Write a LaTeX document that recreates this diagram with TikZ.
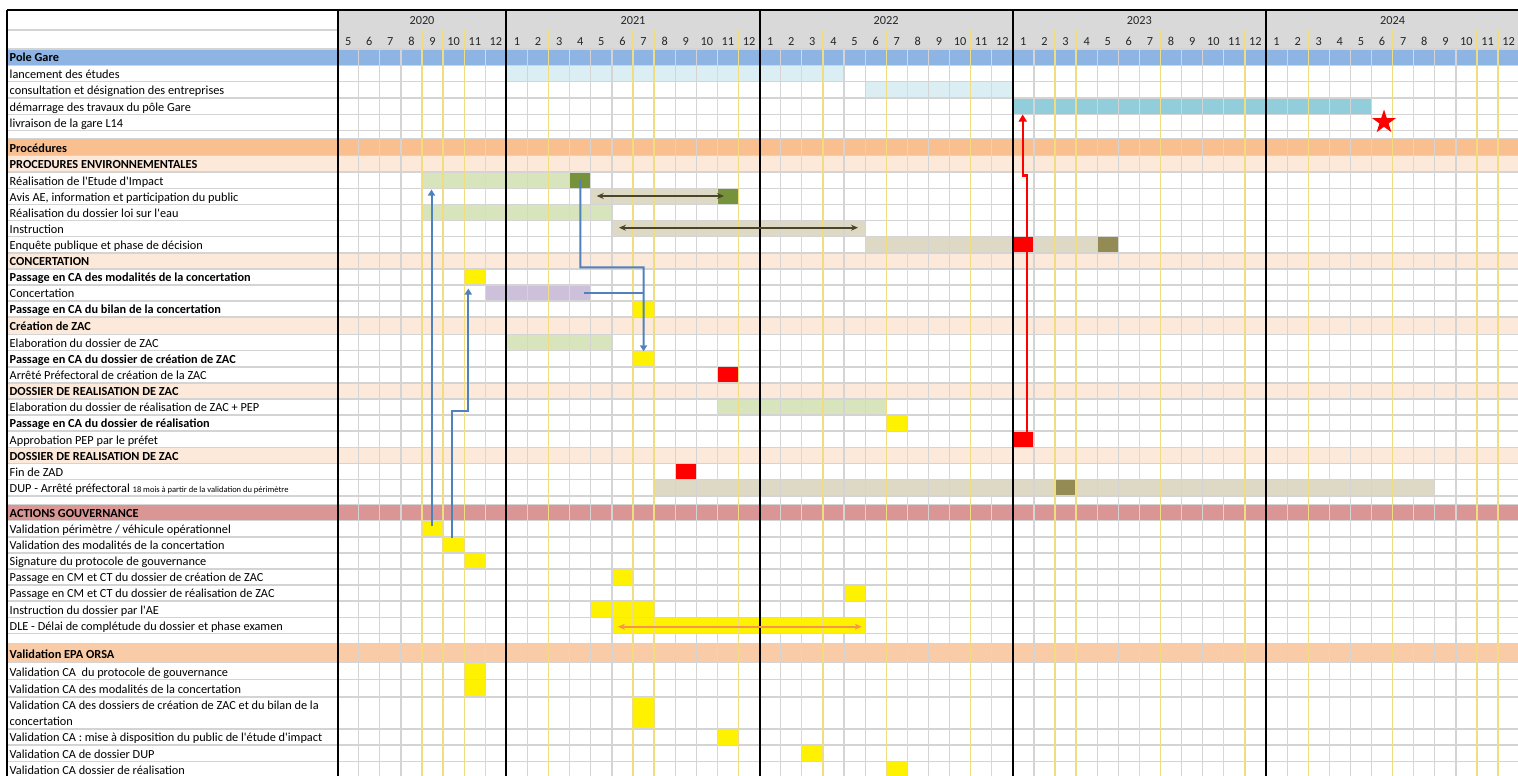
\documentclass[tikz,border=0pt]{standalone}
\usepackage{fontspec}
\setmainfont{Carlito}
\usetikzlibrary{arrows.meta,shapes.geometric}
\definecolor{poleblue}{HTML}{8DB4E2}
\definecolor{ltblue}{HTML}{DAEEF3}
\definecolor{midblue}{HTML}{92CDDC}
\definecolor{procor}{HTML}{FABF8F}
\definecolor{peach}{HTML}{FDE9D9}
\definecolor{ltgreen}{HTML}{D8E4BC}
\definecolor{dkgreen}{HTML}{76933C}
\definecolor{beige}{HTML}{DDD9C4}
\definecolor{olive}{HTML}{948A54}
\definecolor{lav}{HTML}{CCC0DA}
\definecolor{gouv}{HTML}{DA9694}
\definecolor{epa}{HTML}{F9CBA7}
\definecolor{hdrgray}{HTML}{D9D9D9}
\definecolor{gridgray}{HTML}{D4D4D4}
\definecolor{ycolor}{HTML}{F0DD82}
\definecolor{connblue}{HTML}{4F81BD}
\definecolor{darkol}{HTML}{4A4528}
\definecolor{orarrow}{HTML}{F79646}
\definecolor{hdrtext}{HTML}{262626}
\newcommand\ap{\textquotesingle}
\newcommand\gbar[5]{\fill[#1] ({337.6+21.1*(#2)},#4) rectangle ({337.6+21.1*(#3)},#5);}
\newcommand\gcell[6]{\node[cellbox, fill=#2, minimum width={21.1*((#4)-(#3))-1.2}, minimum height={(#6)-(#5)-1.2}] (#1) at ({337.6+21.1*((#3)+(#4))/2},{((#5)+(#6))/2}) {};}
\newcommand\lab[4]{\node[#1] (#2) at (9.5,#3) {#4};}
\tikzset{
  lbl/.style={anchor=base west, inner sep=0pt, font=\fontsize{12.3}{14}\selectfont},
  blbl/.style={anchor=base west, inner sep=0pt, font=\fontsize{12.3}{14}\selectfont\bfseries},
  hdr/.style={anchor=base, inner sep=0pt, font=\fontsize{12.3}{14}\selectfont, text=hdrtext},
  hgrid/.style={draw=gridgray, line width=1.5pt},
  vgrid/.style={draw=gridgray, line width=1.2pt},
  ycol/.style={draw=ycolor, line width=1.3pt},
  yearline/.style={draw=black, line width=2pt},
  cellbox/.style={rectangle, draw=none, inner sep=0pt, outer sep=0pt},
  conn/.style={draw=connblue, line width=2pt},
  redconn/.style={draw=red, line width=2.4pt},
  oconn/.style={draw=darkol, line width=2pt},
  orconn/.style={draw=orarrow, line width=2pt},
}
\begin{document}
\begin{tikzpicture}[x=1pt,y=-1pt]
\useasboundingbox (0,0) rectangle (1518,776);
\begin{scope}
\clip (0,0) rectangle (1518,776);
% ---- row bands
\fill[poleblue] (7,49) rectangle (1520,65.3);
\fill[procor] (7,138.5) rectangle (1520,155.5);
\fill[peach] (7,155.5) rectangle (1520,172);
\fill[peach] (7,252.8) rectangle (1520,268.9);
\fill[peach] (7,317.2) rectangle (1520,334.5);
\fill[peach] (7,382.9) rectangle (1520,399);
\fill[peach] (7,447.3) rectangle (1520,463.4);
\fill[gouv] (7,504.5) rectangle (1520,520.7);
\fill[epa] (7,643.3) rectangle (1520,662.5);
\fill[hdrgray] (337.6,10) rectangle (1520,49);
% ---- light bars
\gbar{ltblue}{8}{24}{65.3}{81.6}
\gbar{ltblue}{25}{32}{81.6}{98}
\gbar{midblue}{32}{49}{98}{114.3}
\gbar{ltgreen}{4}{11}{172}{188.3}
\gbar{beige}{12}{18}{188.3}{204.4}
\gbar{ltgreen}{4}{13}{204.4}{220.6}
\gbar{beige}{13}{25}{220.6}{236.7}
\gbar{beige}{25}{36}{236.7}{252.8}
\gbar{lav}{7}{12}{285}{301.1}
\gbar{ltgreen}{8}{13}{334.5}{350.7}
\gbar{ltgreen}{18}{26}{399}{415.1}
\gbar{beige}{15}{52}{479.6}{495.8}
% ---- grid
\draw[hgrid] (7,30) -- (337.6,30);
\foreach \yy in {49,65.3,81.6,98,114.3,130.6,138.5,155.5,172,188.3,204.4,220.6,236.7,252.8,268.9,285,301.1,317.2,334.5,350.7,366.8,382.9,399,415.1,431.2,447.3,463.4,479.6,495.8,504.5,520.7,536.8,552.9,569,585.1,601.2,617.3,633.4,643.3,662.5,679.6,696.8,729,745.2,761.4,777.6}
  \draw[hgrid] (7,\yy) -- (1520,\yy);
\foreach \m in {1,...,55}
  \draw[vgrid] ({337.6+21.1*\m},49) -- ({337.6+21.1*\m},780);
% ---- solid cells
\gcell{eiG}{dkgreen}{11}{12}{172}{188.3}
\gcell{avG}{dkgreen}{18}{19}{188.3}{204.4}
\gcell{enqR}{red}{32}{33}{236.7}{252.8}
\gcell{enqO}{olive}{36}{37}{236.7}{252.8}
\gcell{pmodY}{yellow}{6}{7}{268.9}{285}
\gcell{pbilY}{yellow}{14}{15}{301.1}{317.2}
\gcell{pcreY}{yellow}{14}{15}{350.7}{366.8}
\gcell{arrR}{red}{18}{19}{366.8}{382.9}
\gcell{prealY}{yellow}{26}{27}{415.1}{431.2}
\gcell{apprR}{red}{32}{33}{431.2}{447.3}
\gcell{zadR}{red}{16}{17}{463.4}{479.6}
\gcell{dupO}{olive}{34}{35}{479.6}{495.8}
\gcell{vperY}{yellow}{4}{5}{520.7}{536.8}
\gcell{vmodY}{yellow}{5}{6}{536.8}{552.9}
\gcell{sigY}{yellow}{6}{7}{552.9}{569}
\gcell{cmcY}{yellow}{13}{14}{569}{585.1}
\gcell{cmrY}{yellow}{24}{25}{585.1}{601.2}
\gcell{iaeAY}{yellow}{12}{13}{601.2}{617.3}
\gcell{iaeBY}{yellow}{13}{15}{601.2}{617.3}
\gcell{dleY}{yellow}{13}{25}{617.3}{633.4}
\gcell{cprotY}{yellow}{6}{7}{662.5}{679.6}
\gcell{cmodY}{yellow}{6}{7}{679.6}{696.8}
\gcell{cdosY}{yellow}{14}{15}{696.8}{729}
\gcell{cmiseY}{yellow}{18}{19}{729}{745.2}
\gcell{cdupY}{yellow}{22}{23}{745.2}{761.4}
\gcell{crealY}{yellow}{26}{27}{761.4}{777.6}
% ---- yellow column outlines
\foreach \c in {4,6,10,14,18,22,26,30,34,38,42,46,50,54}
  \draw[ycol] ({337.6+21.1*\c},780) -- ({337.6+21.1*\c},29.5) -- ({337.6+21.1*(\c+1)},29.5) -- ({337.6+21.1*(\c+1)},780);
% ---- black lines
\draw[black, line width=1.3pt] (7,10) -- (1520,10);
\draw[black, line width=1.5pt] (7,10) -- (7,780);
\foreach \xx in {337.6,506.4,759.6,1012.8,1266}
  \draw[yearline] (\xx,10) -- (\xx,780);
\end{scope}
% ---- header text
\node[hdr] (y2020) at (422,24.5) {2020};
\node[hdr] (y2021) at (633,24.5) {2021};
\node[hdr] (y2022) at (886.2,24.5) {2022};
\node[hdr] (y2023) at (1139.4,24.5) {2023};
\node[hdr] (y2024) at (1392.6,24.5) {2024};
\foreach \m in {0,...,55}{
  \pgfmathtruncatemacro\mn{mod(\m+4,12)+1}
  \node[hdr, name=mn\m] at ({337.6+21.1*(\m+0.5)},46) {\mn};
}
% ---- labels
\lab{blbl}{t1}{62}{Pole Gare}
\lab{lbl}{t2}{78.3}{lancement des études}
\lab{lbl}{t3}{94.7}{consultation et désignation des entreprises}
\lab{lbl}{t4}{111}{démarrage des travaux du pôle Gare}
\lab{lbl}{t5}{127.3}{livraison de la gare L14}
\lab{blbl}{t6}{152.2}{Procédures}
\lab{blbl}{t7}{168.7}{PROCEDURES ENVIRONNEMENTALES}
\lab{lbl}{t8}{185}{Réalisation de l\ap Etude d\ap Impact}
\lab{lbl}{t9}{201.1}{Avis AE, information et participation du public}
\lab{lbl}{t10}{217.3}{Réalisation du dossier loi sur l\ap eau}
\lab{lbl}{t11}{233.4}{Instruction}
\lab{lbl}{t12}{249.5}{Enquête publique et phase de décision}
\lab{blbl}{t13}{265.6}{CONCERTATION}
\lab{blbl}{t14}{281.7}{Passage en CA des modalités de la concertation}
\lab{lbl}{t15}{297.8}{Concertation}
\lab{blbl}{t16}{313.9}{Passage en CA du bilan de la concertation}
\lab{blbl}{t17}{330.5}{Création de ZAC}
\lab{lbl}{t18}{347.4}{Elaboration du dossier de ZAC}
\lab{blbl}{t19}{363.5}{Passage en CA du dossier de création de ZAC}
\lab{lbl}{t20}{379.6}{Arrêté Préfectoral de création de la ZAC}
\lab{blbl}{t21}{395.7}{DOSSIER DE REALISATION DE ZAC}
\lab{lbl}{t22}{411.8}{Elaboration du dossier de réalisation de ZAC + PEP}
\lab{blbl}{t23}{427.9}{Passage en CA du dossier de réalisation}
\lab{lbl}{t24}{444}{Approbation PEP par le préfet}
\lab{blbl}{t25}{460.1}{DOSSIER DE REALISATION DE ZAC}
\lab{lbl}{t26}{476.3}{Fin de ZAD}
\lab{lbl}{t27}{492.5}{DUP - Arrêté préfectoral {\fontsize{8.5}{10}\selectfont 18 mois à partir de la validation du périmètre}}
\lab{blbl}{t28}{517.4}{ACTIONS GOUVERNANCE}
\lab{lbl}{t29}{533.5}{Validation périmètre / véhicule opérationnel}
\lab{lbl}{t30}{549.6}{Validation des modalités de la concertation}
\lab{lbl}{t31}{565.7}{Signature du protocole de gouvernance}
\lab{lbl}{t32}{581.8}{Passage en CM et CT du dossier de création de ZAC}
\lab{lbl}{t33}{597.9}{Passage en CM et CT du dossier de réalisation de ZAC}
\lab{lbl}{t34}{614}{Instruction du dossier par l\ap AE}
\lab{lbl}{t35}{630.1}{DLE - Délai de complétude du dossier et phase examen}
\lab{blbl}{t36}{658.5}{Validation EPA ORSA}
\lab{lbl}{t37}{676.3}{Validation CA\ \ du protocole de gouvernance}
\lab{lbl}{t38}{693.5}{Validation CA des modalités de la concertation}
\node[lbl, anchor=west, align=left, font=\fontsize{12.3}{16.1}\selectfont] (t39) at (9.5,712.9) {Validation CA des dossiers de création de ZAC et du bilan de la\\concertation};
\lab{lbl}{t40}{741.9}{Validation CA : mise à disposition du public de l\ap étude d\ap impact}
\lab{lbl}{t41}{758.1}{Validation CA de dossier DUP}
\lab{lbl}{t42}{774.3}{Validation CA dossier de réalisation}
% ---- connectors
\coordinate (b1s) at (431.5,526);
\coordinate (b1e) at (431.5,189.5);
\draw[conn,-{Triangle[length=6pt,width=7pt]}] (b1s) -- (b1e);
\coordinate (b2s) at (451.7,538);
\coordinate (b2k) at (468.3,411);
\coordinate (b2e) at (468.3,288.5);
\draw[conn,-{Triangle[length=6pt,width=7pt]}] (b2s) |- (b2k) -- (b2e);
\coordinate (b3k) at (643.55,267.3);
\draw[conn,-{Triangle[length=6pt,width=7pt]}] (eiG.center) |- (b3k) -- (pcreY.north);
\coordinate (b4s) at (584.3,293.3);
\coordinate (b4e) at (643.55,293.3);
\draw[conn] (b4s) -- (b4e);
\coordinate (rs) at (1026.7,432);
\coordinate (rk1) at (1026.7,175.5);
\coordinate (rk2) at (1022.7,175.5);
\coordinate (re) at (1022.7,114.5);
\draw[redconn,-{Triangle[length=7pt,width=8pt]}] (rs) -- (rk1) -- (rk2) -- (re);
\coordinate (oa1) at (596.7,196);
\coordinate (oa2) at (724,196);
\draw[oconn,{Stealth[length=7pt,width=6pt]}-{Stealth[length=7pt,width=6pt]}] (oa1) -- (oa2);
\coordinate (ob1) at (619,227.7);
\coordinate (ob2) at (858,227.7);
\draw[oconn,{Stealth[length=7pt,width=6pt]}-{Stealth[length=7pt,width=6pt]}] (ob1) -- (ob2);
\coordinate (oc1) at (618,626.7);
\coordinate (oc2) at (861.7,626.7);
\draw[orconn,{Stealth[length=7pt,width=6pt]}-{Stealth[length=7pt,width=6pt]}] (oc1) -- (oc2);
\node[star, star points=5, star point ratio=2.6, fill=red, draw=none, inner sep=0pt, minimum size=25pt] (livstar) at (1384,122) {};
\end{tikzpicture}
\end{document}
